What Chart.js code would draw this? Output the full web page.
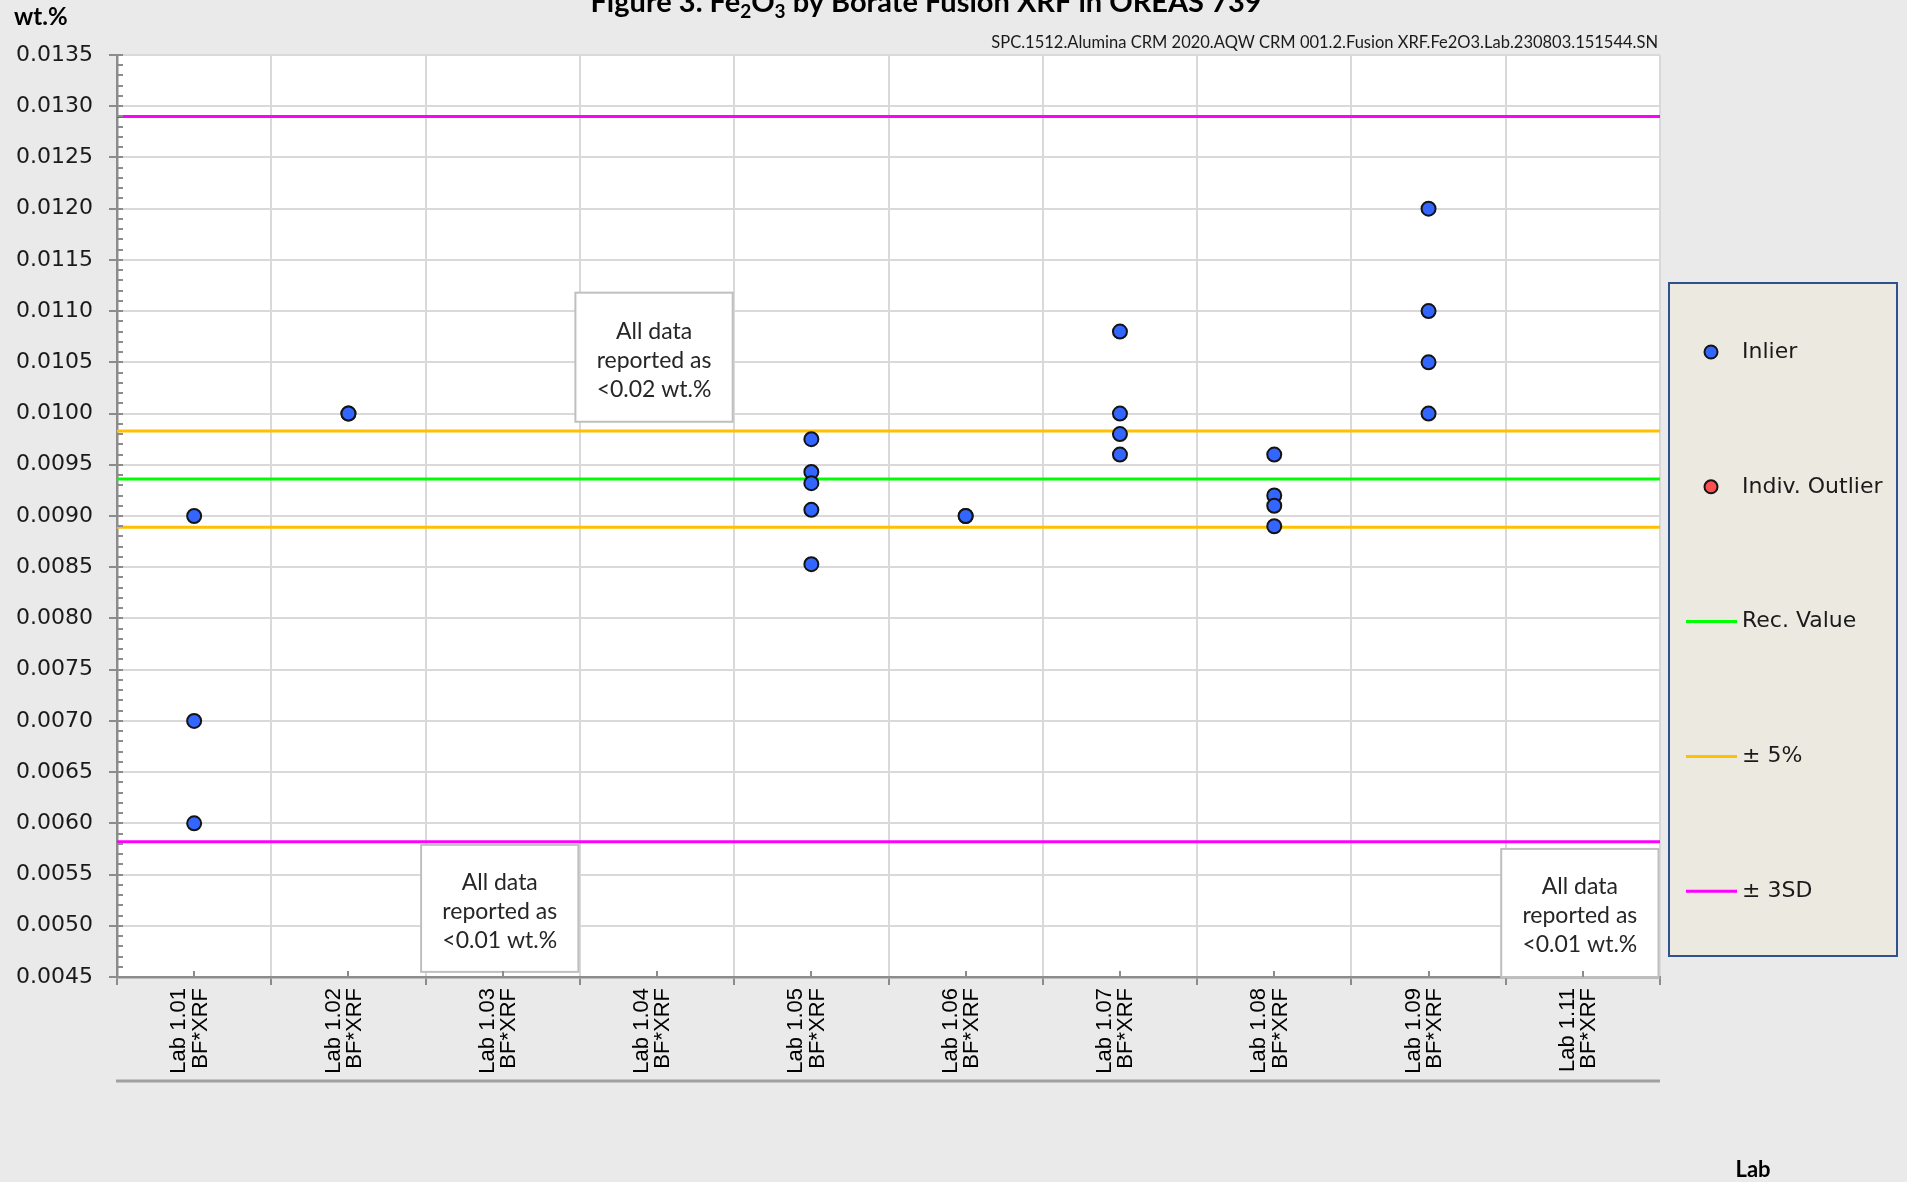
<!DOCTYPE html>
<html><head><meta charset="utf-8">
<script src="https://cdn.jsdelivr.net/npm/chart.js@4.4.0/dist/chart.umd.min.js"></script>
<style>html,body{margin:0;padding:0;background:#eaeaea;overflow:hidden}#wrap{position:relative;width:1907px;height:1182px}</style>
</head><body><div id="wrap"><canvas id="c" width="1907" height="1182"></canvas></div>
<script>
// ---------------- data ----------------
const labs = ['Lab 1.01','Lab 1.02','Lab 1.03','Lab 1.04','Lab 1.05','Lab 1.06','Lab 1.07','Lab 1.08','Lab 1.09','Lab 1.11'];
const methodLabel = 'BF*XRF';
const inlierLabs = ['Lab 1.01','Lab 1.01','Lab 1.01',
  'Lab 1.02','Lab 1.02',
  'Lab 1.05','Lab 1.05','Lab 1.05','Lab 1.05','Lab 1.05',
  'Lab 1.06','Lab 1.06',
  'Lab 1.07','Lab 1.07','Lab 1.07','Lab 1.07',
  'Lab 1.08','Lab 1.08','Lab 1.08','Lab 1.08',
  'Lab 1.09','Lab 1.09','Lab 1.09','Lab 1.09'];
const inlierValues = [0.0090,0.0070,0.0060,
  0.0100,0.0100,
  0.00975,0.00943,0.00932,0.00906,0.00853,
  0.0090,0.0090,
  0.0108,0.0100,0.0098,0.0096,
  0.0096,0.0092,0.0091,0.0089,
  0.0120,0.0110,0.0105,0.0100];
const outlierLabs = [];
const outlierValues = [];
const recValue = 0.00936;
const plus5 = 0.00983, minus5 = 0.00889;
const plus3SD = 0.01290, minus3SD = 0.00582;
const yMin = 0.0045, yMax = 0.0135, yStep = 0.0005, yMinorStep = 0.0001;
const titleParts = [['Figure 3. Fe',0],['2',1],['O',0],['3',1],[' by Borate Fusion XRF in OREAS 739',0]];
const subtitle = 'SPC.1512.Alumina CRM 2020.AQW CRM 001.2.Fusion XRF.Fe2O3.Lab.230803.151544.SN';
const yTitle = 'wt.%';
const xTitle = 'Lab';
const noteLabs = ['Lab 1.04','Lab 1.03','Lab 1.11'];
const noteTexts = [['All data','reported as','<0.02 wt.%'],['All data','reported as','<0.01 wt.%'],['All data','reported as','<0.01 wt.%']];
const noteTops = [0.01118, 0.00579, 0.00575];
const noteBottoms = [0.00992, 0.00455, 0.0045];

// ---------------- chart ----------------
const refLine = (label, v, color, hideLegend) => ({type:'line', label, data:[{x:0,y:v},{x:1,y:v}], xAxisID:'x2', yAxisID:'y',
  borderColor:color, backgroundColor:color, borderWidth:3, pointRadius:0, fill:false, order:2, hideLegend});

const datasets = [
  {type:'line', label:'Inlier', data: inlierLabs.map((l,i)=>({x:l,y:inlierValues[i]})), xAxisID:'x', yAxisID:'y',
   showLine:false, pointRadius:7, pointBackgroundColor:'#3366ff', pointBorderColor:'#141414', pointBorderWidth:2, order:0},
  {type:'line', label:'Indiv. Outlier', data: outlierLabs.map((l,i)=>({x:l,y:outlierValues[i]})), xAxisID:'x', yAxisID:'y',
   showLine:false, pointRadius:7, pointBackgroundColor:'#ff5050', pointBorderColor:'#141414', pointBorderWidth:2, order:0},
  refLine('Rec. Value', recValue, '#00ff00'),
  refLine('± 5%', plus5, '#ffc000'),
  refLine('± 5%', minus5, '#ffc000', true),
  refLine('± 3SD', plus3SD, '#ff00ff'),
  refLine('± 3SD', minus3SD, '#ff00ff', true)
];

const AXIS = '#8c8c8c', GRID = '#d9d9d9';

const deco = {
  id:'deco',
  beforeDraw(chart){
    const {ctx, chartArea:ca} = chart;
    ctx.save();
    ctx.fillStyle = '#eaeaea'; ctx.fillRect(0,0,chart.width,chart.height);
    ctx.fillStyle = '#ffffff'; ctx.fillRect(ca.left, ca.top, ca.right-ca.left, ca.bottom-ca.top);
    ctx.restore();
  },
  afterDatasetsDraw(chart){
    const {ctx, chartArea:ca, scales} = chart;
    const x = scales.x, y = scales.y;
    const cw = (ca.right-ca.left)/labs.length;
    ctx.save();
    noteLabs.forEach((lab,i)=>{
      const cx = x.getPixelForValue(labs.indexOf(lab)) - 3;
      const t = y.getPixelForValue(noteTops[i]);
      const b = Math.min(y.getPixelForValue(noteBottoms[i]), ca.bottom);
      const w = cw + 3;
      ctx.fillStyle = '#ffffff';
      ctx.fillRect(cx-w/2, t, w, b-t);
      ctx.strokeStyle = '#bfbfbf'; ctx.lineWidth = 2;
      ctx.strokeRect(cx-w/2, t, w, b-t);
      ctx.fillStyle = '#262626';
      ctx.font = '23px Lato';
      ctx.textAlign = 'center'; ctx.textBaseline = 'middle';
      const lh = 29, mid = (t+b)/2 + 3;
      noteTexts[i].forEach((s,k)=>ctx.fillText(s, cx, mid + (k-1)*lh));
    });
    ctx.restore();
  },
  afterDraw(chart){
    const {ctx, chartArea:ca, scales} = chart;
    const x = scales.x, y = scales.y;
    ctx.save();
    // inner tick marks on y
    ctx.strokeStyle = AXIS; ctx.lineWidth = 2;
    ctx.beginPath();
    const n = Math.round((yMax-yMin)/yMinorStep);
    for (let k=0;k<=n;k++){
      const py = Math.round(y.getPixelForValue(yMin + k*yMinorStep));
      ctx.moveTo(ca.left, py); ctx.lineTo(ca.left+6, py);
    }
    // inner tick marks at category centres
    for (let i=0;i<labs.length;i++){
      const px = Math.round(x.getPixelForValue(i));
      ctx.moveTo(px, ca.bottom); ctx.lineTo(px, ca.bottom-6);
    }
    ctx.stroke();
    // lower line of category axis
    ctx.strokeStyle = '#a0a0a0'; ctx.lineWidth = 3;
    ctx.beginPath(); ctx.moveTo(ca.left-1, ca.bottom+104); ctx.lineTo(ca.right, ca.bottom+104); ctx.stroke();

    // title with subscripts
    const big = 'bold 29px Lato', small = 'bold 19px Lato';
    let total = 0;
    titleParts.forEach(([s,sub])=>{ctx.font = sub?small:big; total += ctx.measureText(s).width;});
    let tx = 926 - total/2;
    ctx.fillStyle = '#000'; ctx.textAlign = 'left'; ctx.textBaseline = 'alphabetic';
    titleParts.forEach(([s,sub])=>{ctx.font = sub?small:big; ctx.fillText(s, tx, sub?18:12); tx += ctx.measureText(s).width;});
    // subtitle
    ctx.font = '16.5px Lato'; ctx.textAlign = 'right'; ctx.fillStyle = '#1a1a1a';
    ctx.fillText(subtitle, ca.right-2, 48);
    // axis titles
    ctx.font = 'bold 24px Lato'; ctx.textAlign = 'left'; ctx.fillStyle = '#000';
    ctx.fillText(yTitle, 14, 25);
    ctx.font = 'bold 22px Lato'; ctx.textAlign = 'center';
    ctx.fillText(xTitle, 1753, 1177);

    // legend
    const L = 1669, T = 283, R = 1897, B = 956;
    ctx.fillStyle = '#ece9e1'; ctx.fillRect(L, T, R-L, B-T);
    ctx.strokeStyle = '#2f528f'; ctx.lineWidth = 2; ctx.strokeRect(L, T, R-L, B-T);
    const items = chart.data.datasets.filter(d=>!d.hideLegend);
    ctx.font = '22px "DejaVu Sans"'; ctx.textBaseline = 'middle'; ctx.textAlign = 'left';
    items.forEach((d,i)=>{
      const iy = 352 + i*134.8;
      if (d.showLine === false){
        ctx.beginPath(); ctx.arc(1711, iy, 6.5, 0, Math.PI*2);
        ctx.fillStyle = d.pointBackgroundColor; ctx.fill();
        ctx.lineWidth = 2; ctx.strokeStyle = d.pointBorderColor; ctx.stroke();
      } else {
        ctx.beginPath(); ctx.moveTo(1686, iy); ctx.lineTo(1737, iy);
        ctx.lineWidth = 3; ctx.strokeStyle = d.borderColor; ctx.stroke();
      }
      ctx.fillStyle = '#1a1a1a';
      ctx.fillText(d.label, 1742, iy);
    });
    ctx.restore();
  }
};

new Chart(document.getElementById('c'), {
  type:'line',
  data:{labels: labs, datasets},
  options:{
    responsive:false, animation:false, devicePixelRatio:1,
    layout:{padding:{top:55, right:247, bottom:0, left:0}},
    plugins:{legend:{display:false}, title:{display:false}, tooltip:{enabled:false}},
    scales:{
      x:{type:'category', position:'bottom', offset:true,
         grid:{offset:true, color:GRID, lineWidth:2, tickLength:8, tickColor:AXIS, tickWidth:2},
         border:{color:AXIS, width:2.5},
         ticks:{autoSkip:false, minRotation:90, maxRotation:90, padding:3, labelOffset:-15, color:'#000',
                font:{family:'"Liberation Sans", Arial, sans-serif', size:22, lineHeight:0.97},
                callback:(v,i)=>[labs[i], methodLabel]},
         afterFit:(s)=>{s.height = 205;}},
      x2:{type:'linear', min:0, max:1, display:false},
      y:{type:'linear', min:yMin, max:yMax,
         grid:{color:GRID, lineWidth:2, tickLength:8, tickColor:AXIS, tickWidth:2},
         border:{color:AXIS, width:2.5},
         ticks:{stepSize:yStep, padding:16, color:'#1a1a1a', font:{family:'"DejaVu Sans"', size:22},
                callback:(v)=>v.toFixed(4)},
         afterFit:(s)=>{s.width = 117;}}
    }
  },
  plugins:[deco]
});
</script>
</body></html>
